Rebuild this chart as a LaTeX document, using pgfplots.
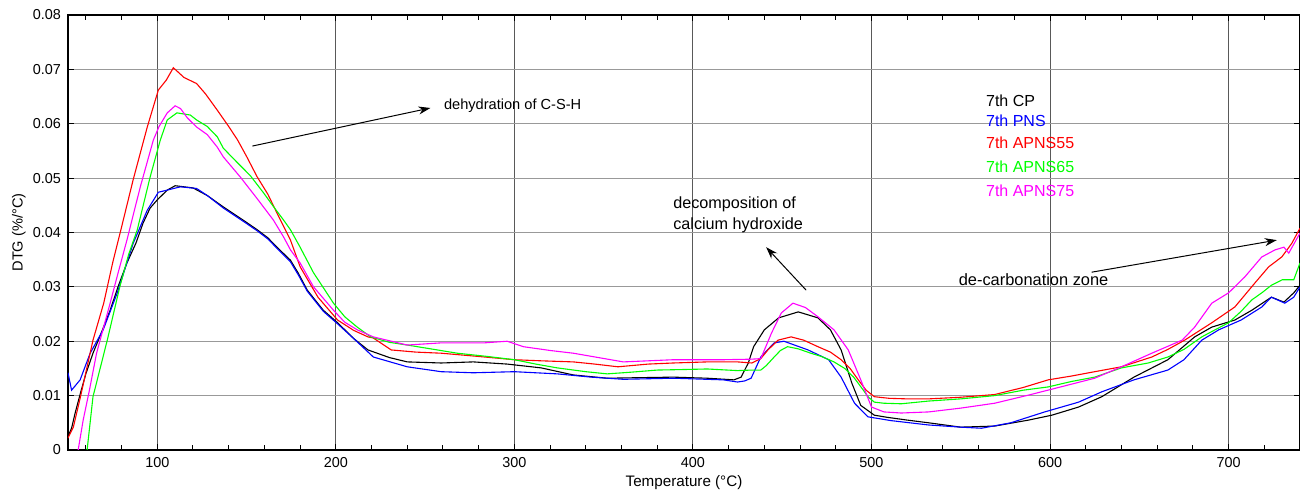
\documentclass[border=0pt]{standalone}
\usepackage{fontspec}
\setmainfont{Liberation Sans}
\usepackage{pgfplots}
\pgfplotsset{compat=1.18}
\usetikzlibrary{arrows.meta,calc}

\definecolor{mred}{RGB}{255,0,0}
\definecolor{mgreen}{RGB}{0,255,0}
\definecolor{mblue}{RGB}{0,0,255}
\definecolor{mmag}{RGB}{255,0,255}

\begin{document}
\begin{tikzpicture}
\begin{axis}[
  scale only axis, width=616pt, height=217.5pt,
  xmin=50, xmax=740, ymin=0, ymax=0.08,
  xtick={100,200,...,700},
  minor xtick={60,80,...,740},
  ytick={0,0.01,...,0.08},
  yticklabels={0,0.01,0.02,0.03,0.04,0.05,0.06,0.07,0.08},
  scaled y ticks=false,
  tick align=inside,
  major tick length=3pt, minor tick length=2.5pt,
  tick style={black, line width=0.5pt},
  xmajorgrids, ymajorgrids,
  x grid style={black!65, line width=0.5pt},
  y grid style={black!40, line width=0.6pt},
  axis line style={black, line width=0.6pt},
  /pgf/number format/assume math mode=true,
  ticklabel style={font=\fontsize{7.2}{8}\selectfont},
  xlabel={Temperature (°C)},
  ylabel={DTG (\%/°C)},
  xlabel style={font=\fontsize{7.6}{8}\selectfont, at={(axis description cs:0.5,-0.0759)}, anchor=center},
  ylabel style={font=\fontsize{7.3}{8}\selectfont, at={(axis description cs:-0.0398,0.5)}, anchor=center},
  every axis plot/.append style={line width=0.55pt},
  clip=true,
]
\coordinate (bl) at (rel axis cs:0,0);
\coordinate (tr) at (rel axis cs:1,1);
% 7th CP
\addplot[black] coordinates {
(50,0.0025)(52,0.004)(54,0.0068)(57,0.0105)(60,0.014)(64,0.0178)(68,0.021)(73.6,0.0257)(78,0.03)(83,0.0344)(88,0.038)(92,0.0417)(96,0.0445)(100,0.046)(105.6,0.0478)(110,0.0486)(120,0.0482)(128,0.0468)(137,0.0447)(148,0.0423)(156,0.0405)(162,0.039)(167,0.0373)(174.6,0.0349)(179,0.0325)(184,0.0294)(193,0.0257)(201,0.0234)(210,0.0205)(218,0.0184)(230,0.017)(240,0.0162)(259,0.016)(277,0.0162)(296,0.0158)(315,0.0151)(333,0.0138)(352,0.0132)(370,0.0133)(389,0.0134)(408,0.0132)(423,0.0129)(427,0.0134)(431,0.016)(434,0.019)(440,0.0221)(448,0.0243)(459,0.0254)(470,0.0243)(477,0.0221)(483,0.0184)(489,0.0123)(494,0.0082)(501.6,0.0064)(509,0.006)(520,0.0055)(532,0.005)(550,0.0042)(569,0.0044)(588,0.0055)(601,0.0064)(616,0.0079)(629,0.0098)(638,0.0116)(647,0.0134)(666,0.0166)(681,0.0208)(690.6,0.0226)(703.5,0.0239)(713,0.0257)(724,0.0281)(731,0.0272)(736.5,0.0289)(740,0.0303)};
% 7th PNS
\addplot[mblue] coordinates {
(50,0.0142)(52,0.011)(56.8,0.0129)(62.4,0.0178)(69.7,0.0221)(77.6,0.0289)(86.5,0.038)(94.4,0.0441)(100.6,0.0474)(105.6,0.0478)(113,0.0484)(122,0.0481)(128,0.0468)(137,0.0445)(148,0.0421)(156,0.0403)(162,0.0388)(167,0.0371)(174.6,0.0346)(179,0.0322)(184,0.0292)(193,0.0255)(201,0.0232)(210,0.0205)(221,0.0171)(240,0.0153)(259,0.0144)(277,0.0142)(300,0.0144)(324,0.014)(343,0.0134)(361,0.013)(389,0.0132)(417,0.0129)(425,0.0125)(429,0.0127)(432.6,0.0132)(438,0.0171)(445.5,0.0197)(451,0.02)(464.5,0.0184)(476,0.0166)(483,0.0134)(490.5,0.0086)(498,0.0061)(511,0.0054)(532,0.0046)(550,0.0042)(561.6,0.004)(578,0.005)(597,0.007)(616,0.0088)(629,0.0107)(647,0.0129)(666,0.0147)(675,0.0166)(685,0.0202)(694.5,0.0221)(707,0.0239)(718.6,0.0263)(724,0.0281)(731.5,0.027)(736.5,0.0281)(740,0.03)};
% 7th APNS55
\addplot[mred] coordinates {
(50,0.0022)(53,0.0042)(57,0.0098)(64,0.0202)(70,0.027)(75,0.0344)(80,0.041)(86.5,0.0497)(90,0.054)(94.4,0.0594)(100.6,0.0662)(105,0.068)(109,0.0703)(115,0.0685)(122,0.0674)(127,0.0655)(133.6,0.0625)(140,0.0595)(145,0.0570)(150,0.054)(156,0.0502)(162,0.047)(167,0.0436)(174.6,0.0386)(180,0.0337)(190,0.0281)(201,0.0239)(210,0.022)(218,0.0208)(221,0.0206)(231,0.0184)(245,0.018)(259,0.0178)(280,0.0172)(300,0.0166)(315,0.0164)(333,0.0162)(345,0.0158)(358,0.0153)(375,0.0158)(389,0.016)(408,0.0162)(425,0.0162)(433,0.016)(438,0.0168)(442,0.0184)(447.7,0.0202)(455,0.0208)(462,0.0202)(470,0.019)(477,0.018)(483,0.0166)(488,0.015)(492.6,0.0129)(497,0.011)(501.6,0.0098)(510,0.0095)(520,0.0094)(532,0.0094)(550,0.0097)(569,0.0102)(585,0.0115)(599,0.0129)(612,0.0136)(625,0.0144)(640,0.0153)(657,0.0171)(666,0.0185)(675.4,0.0202)(690.6,0.0234)(703.5,0.0263)(714.7,0.0307)(722.5,0.0337)(729.8,0.0355)(735.4,0.038)(740,0.0408)};
% 7th APNS65
\addplot[mgreen] coordinates {
(60.7,0)(64,0.0098)(68,0.015)(72,0.0202)(79,0.03)(84,0.036)(88.8,0.0405)(96,0.0502)(101.7,0.057)(105.6,0.0607)(111,0.062)(118.5,0.0616)(122,0.0607)(128,0.0595)(133.6,0.0576)(137,0.0555)(145,0.0528)(152,0.0505)(159.5,0.0473)(165,0.0448)(170.7,0.0423)(174.6,0.0405)(180,0.0373)(187.5,0.0326)(198.7,0.027)(205,0.0245)(212,0.0226)(219.5,0.0208)(230,0.0198)(240,0.0193)(255,0.0185)(268,0.0178)(285,0.0172)(300,0.0166)(312,0.0158)(324,0.0151)(340,0.0144)(352,0.014)(365,0.0143)(380,0.0147)(395,0.0148)(408,0.0149)(425,0.0146)(433,0.0147)(438,0.0147)(441,0.0155)(445.5,0.0171)(449,0.0183)(453,0.019)(459,0.0186)(466,0.0178)(472,0.0172)(479,0.0162)(485,0.015)(490,0.0134)(495,0.0112)(498,0.0098)(501.6,0.0088)(507,0.0086)(516.7,0.0085)(532,0.009)(550,0.0094)(569,0.01)(585,0.011)(599,0.0116)(612,0.0126)(625,0.0134)(640,0.0151)(655,0.016)(666,0.0171)(675,0.0185)(685,0.0208)(693,0.0222)(700,0.0234)(707,0.0255)(713,0.0276)(719,0.029)(724,0.0303)(730,0.0313)(736.5,0.0313)(740,0.0344)};
% 7th APNS75
\addplot[mmag] coordinates {
(55.7,0)(58.5,0.0055)(62,0.011)(66,0.0178)(73.6,0.027)(78,0.0325)(83,0.0386)(90.5,0.0484)(97.8,0.057)(101,0.0595)(105.6,0.062)(110,0.0633)(113,0.0628)(116.8,0.0611)(122,0.0594)(128,0.058)(133.6,0.0557)(137,0.0539)(146.5,0.0502)(156,0.0462)(165,0.0423)(170.7,0.0392)(174.6,0.0368)(180,0.0344)(187.5,0.03)(198.7,0.0257)(205,0.0235)(212,0.0221)(221,0.0208)(240,0.0193)(259,0.0197)(283,0.0197)(296,0.02)(305,0.019)(320,0.0183)(333,0.0178)(347,0.017)(361,0.0162)(375,0.0164)(389,0.0166)(405,0.0166)(417,0.0166)(432.6,0.0167)(438,0.0168)(444,0.0215)(449.5,0.0252)(456,0.027)(463,0.0262)(470,0.0245)(479,0.0221)(487,0.0184)(494,0.0129)(500,0.0079)(507,0.007)(516.7,0.0068)(532,0.007)(550,0.0077)(569,0.0086)(588,0.0101)(606,0.0116)(625,0.0132)(640,0.0153)(657,0.0178)(674,0.0202)(681,0.0226)(690.6,0.027)(700,0.0289)(709,0.0318)(718.6,0.0355)(726,0.0368)(731,0.0373)(733.7,0.0362)(740,0.0399)};

% annotations
\draw[-{Stealth[length=6pt,width=4pt]}, line width=0.5pt] (axis cs:153.3,0.0559) -- (axis cs:253,0.0629);
\node[anchor=west, font=\fontsize{7.3}{8}\selectfont, inner sep=0pt] at (axis cs:260.4,0.0634) {dehydration of C-S-H};
\node[anchor=north west, align=left, font=\fontsize{8.1}{10.5}\selectfont, inner sep=0pt] at (axis cs:388.8,0.0466) {decomposition of\\calcium hydroxide};
\draw[-{Stealth[length=6pt,width=4pt]}, line width=0.5pt] (axis cs:463.4,0.0294) -- (axis cs:441,0.0373);
\node[anchor=west, font=\fontsize{8.2}{9}\selectfont, inner sep=0pt] at (axis cs:548.7,0.0313) {de-carbonation zone};
\draw[-{Stealth[length=6pt,width=4pt]}, line width=0.5pt] (axis cs:623.3,0.0327) -- (axis cs:727,0.0386);

% legend (text only)
\begin{scope}[every node/.style={anchor=west, inner sep=0pt, font=\fontsize{8}{9}\selectfont}]
\node[text=black] at (axis cs:564,0.0642) {7th CP};
\node[text=mblue] at (axis cs:564,0.0605) {7th PNS};
\node[text=mred] at (axis cs:564,0.0565) {7th APNS55};
\node[text=mgreen] at (axis cs:564,0.0520) {7th APNS65};
\node[text=mmag] at (axis cs:564,0.0476) {7th APNS75};
\end{scope}
\end{axis}
\pgfresetboundingbox
\path ($(bl)+(-34pt,-22.5pt)$) rectangle ($(tr)+(0pt,7.5pt)$);
\end{tikzpicture}
\end{document}
